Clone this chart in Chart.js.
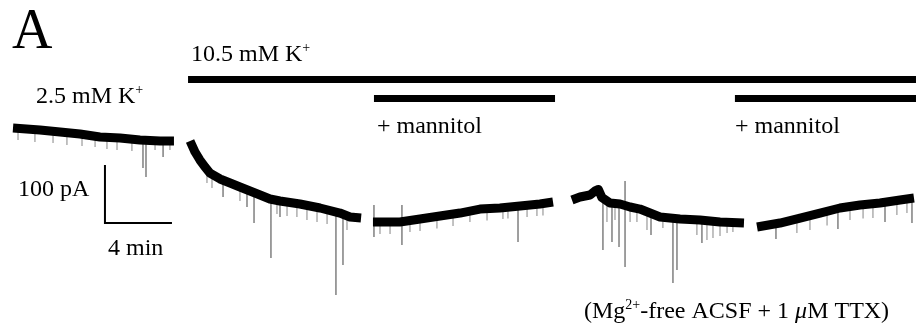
<!DOCTYPE html>
<html>
<head>
<meta charset="utf-8">
<title>Holding current, 2.5 / 10.5 mM K+</title>
<script src="https://cdn.jsdelivr.net/npm/chart.js@4/dist/chart.umd.min.js"></script>
<style>
  html, body { margin: 0; padding: 0; background: #fff; }
  #trace { display: block; }
</style>
</head>
<body>
<canvas id="trace" width="918" height="332"></canvas>
<script>
// Holding current traces, [time (min), current (pA)], one array per recording piece
const trace2_5K = [[0, 0], [1.61, -3.4], [2.81, -6.9], [4.00, -10.3], [5.19, -15.5], [6.39, -17.2], [7.58, -20.7], [8.78, -22.4], [9.61, -22.4]];
const trace10_5K = [[10.57, -22.4], [10.87, -41.4], [11.16, -55.2], [11.46, -67.2], [11.76, -77.6], [12.36, -87.9], [12.96, -94.8], [13.55, -101.7], [14.15, -108.6], [14.75, -115.5], [15.34, -122.4], [15.94, -125.9], [17.13, -131.0], [18.33, -137.9], [19.52, -146.6], [20.12, -153.4], [20.78, -155.2]];
const traceMannitol1 = [[21.49, -162.1], [23.10, -162.1], [24.30, -156.9], [25.49, -151.7], [26.69, -146.6], [27.88, -139.7], [29.07, -137.9], [30.27, -134.5], [31.46, -131.0], [32.24, -127.6]];
const traceMgFree = [[33.37, -124.1], [33.85, -119.0], [34.45, -115.5], [34.75, -108.5], [34.95, -106.0], [35.16, -120.0], [35.64, -129.3], [36.24, -131.0], [36.84, -136.2], [37.43, -139.7], [38.03, -146.6], [38.63, -153.4], [39.82, -156.9], [41.01, -158.6], [42.21, -162.1], [43.64, -163.8]];
const traceMannitol2 = [[44.42, -170.7], [45.79, -163.8], [46.99, -155.2], [48.18, -146.6], [49.37, -137.9], [50.57, -132.8], [51.76, -129.3], [52.96, -124.1], [53.79, -120.7]];

// Inward events: [time (min), from (pA), to (pA)]
const bigEvents = [
  [7.76, -20.7, -69.0], [7.94, -20.7, -84.5], [8.96, -22.4, -50.0],
  [12.54, -87.9, -119.0], [13.97, -104, -136.2], [14.39, -110, -163.8], [15.40, -122.4, -224.1],
  [15.94, -125.9, -153.4], [19.28, -144, -287.9], [19.70, -148, -236.2],
  [21.55, -132.8, -187.9], [23.22, -132.8, -201.7], [30.15, -134.5, -196.6],
  [35.22, -124, -210.3], [35.76, -129, -196.6], [36.18, -131, -205.2], [36.54, -91.4, -239.7],
  [38.09, -146, -184.5], [39.40, -156, -267.2], [39.64, -157, -244.8], [41.13, -159, -198.3],
  [45.55, -164, -191.4], [49.25, -140, -174.1], [52.06, -129, -162.1], [53.67, -121, -163.8]
];
const smallEvents = [
  [0.30, -1, -20.7], [1.31, -3, -24.1], [2.39, -6, -25.9], [3.22, -9, -29.3], [4.12, -11, -31.0],
  [4.90, -14, -32.8], [5.61, -16, -36.2], [6.21, -17, -37.9], [7.10, -20, -39.7], [8.48, -22, -37.9], [9.37, -22, -37.9],
  [11.58, -70.7, -94.8], [11.88, -79.3, -103.4], [13.55, -101.7, -125.9], [15.76, -124.1, -148.3],
  [16.36, -127.6, -151.7], [16.95, -130.2, -153.4], [17.55, -134.5, -158.6], [18.15, -137.1, -162.1],
  [18.75, -141.4, -165.5], [19.94, -151.7, -175.9],
  [21.91, -162.1, -182.8], [22.51, -162.1, -182.8], [23.70, -158.6, -179.3], [24.30, -156.9, -177.6],
  [25.31, -152.6, -173.3], [26.27, -148.3, -169.0], [27.28, -141.4, -162.1], [28.30, -138.8, -159.5],
  [29.25, -136.2, -156.9], [29.55, -135.3, -156.0], [30.69, -132.8, -153.5], [31.28, -131.0, -151.7], [31.64, -130.2, -150.9],
  [35.46, -125.9, -162.1], [35.94, -130.2, -158.6], [36.84, -136.2, -162.1], [37.25, -138.8, -162.1],
  [37.85, -150.0, -175.9], [38.80, -155.2, -172.4], [40.83, -158.6, -184.5], [41.43, -160.3, -193.1],
  [41.79, -161.2, -189.7], [42.21, -162.1, -186.2], [42.63, -162.9, -181.0], [42.98, -163.8, -179.3],
  [46.80, -156.9, -181.0], [47.58, -151.7, -175.8], [48.60, -144.0, -168.1], [49.97, -134.5, -158.6],
  [50.75, -131.9, -156.0], [51.34, -131.0, -155.1], [52.77, -125.9, -150.0], [53.37, -122.4, -146.5]
];

// Perfusion bars: [start (min), end (min)] and the level they sit at
const highKBar = [10.45, 53.91];
const mannitolBars = [[21.55, 32.36], [43.10, 53.91]];
const highKLevel = 83.6;
const mannitolLevel = 50.9;

// Scale bar: 4 min by 100 pA, corner position
const scaleCorner = [5.49, -163.8];
const scaleMinutes = 4;
const scalePA = 100;

const toPoints = arr => arr.map(p => ({ x: p[0], y: p[1] }));

function eventPoints(list) {
  const pts = [];
  list.forEach(e => {
    pts.push({ x: e[0], y: e[1] }, { x: e[0], y: e[2] }, { x: e[0], y: null });
  });
  return pts;
}

function barPoints(bars, level) {
  const pts = [];
  bars.forEach(b => {
    pts.push({ x: b[0], y: level }, { x: b[1], y: level }, { x: b[1], y: null });
  });
  return pts;
}

function traceSet(arr) {
  return {
    data: toPoints(arr),
    borderColor: '#000',
    borderWidth: 9,
    borderJoinStyle: 'round',
    borderCapStyle: 'butt',
    order: 1
  };
}

// Labels drawn on top of the plot
const SERIF = '"Liberation Serif", "Times New Roman", serif';

function drawRich(ctx, x, y, parts) {
  parts.forEach(p => {
    const size = p.sup ? 14 : (p.size || 24);
    ctx.font = (p.italic ? 'italic ' : '') + size + 'px ' + SERIF;
    ctx.fillText(p.t, x, p.sup ? y - 9 : y);
    x += ctx.measureText(p.t).width;
  });
}

const labelPlugin = {
  id: 'labels',
  afterDraw(chart) {
    const ctx = chart.ctx;
    ctx.save();
    ctx.fillStyle = '#000';
    ctx.textBaseline = 'alphabetic';
    ctx.textAlign = 'left';
    drawRich(ctx, 12, 48, [{ t: 'A', size: 56 }]);
    drawRich(ctx, 191, 61, [{ t: '10.5 mM K' }, { t: '+', sup: true }]);
    drawRich(ctx, 36, 103, [{ t: '2.5 mM K' }, { t: '+', sup: true }]);
    drawRich(ctx, 377, 133, [{ t: '+ mannitol' }]);
    drawRich(ctx, 735, 133, [{ t: '+ mannitol' }]);
    drawRich(ctx, 18, 196, [{ t: '100 pA' }]);
    drawRich(ctx, 108, 255, [{ t: '4 min' }]);
    drawRich(ctx, 584, 318, [
      { t: '(Mg' }, { t: '2+', sup: true }, { t: '-free ACSF + 1 ' },
      { t: 'μ', italic: true }, { t: 'M TTX)' }
    ]);
    ctx.restore();
  }
};

new Chart(document.getElementById('trace'), {
  type: 'line',
  data: {
    datasets: [
      traceSet(trace2_5K),
      traceSet(trace10_5K),
      traceSet(traceMannitol1),
      traceSet(traceMgFree),
      traceSet(traceMannitol2),
      {
        data: eventPoints(bigEvents),
        borderColor: '#808080',
        borderWidth: 1.5,
        order: 2
      },
      {
        data: eventPoints(smallEvents),
        borderColor: '#9a9a9a',
        borderWidth: 1.2,
        order: 3
      },
      {
        data: barPoints([highKBar], highKLevel),
        borderColor: '#000',
        borderWidth: 7,
        borderCapStyle: 'butt',
        order: 1
      },
      {
        data: barPoints(mannitolBars, mannitolLevel),
        borderColor: '#000',
        borderWidth: 7,
        borderCapStyle: 'butt',
        order: 1
      },
      {
        // scale bar
        data: [
          { x: scaleCorner[0], y: scaleCorner[1] + scalePA },
          { x: scaleCorner[0], y: scaleCorner[1] },
          { x: scaleCorner[0] + scaleMinutes, y: scaleCorner[1] }
        ],
        borderColor: '#000',
        borderWidth: 2,
        borderJoinStyle: 'miter',
        order: 1
      }
    ]
  },
  options: {
    responsive: false,
    animation: false,
    devicePixelRatio: 1,
    layout: { padding: 0 },
    elements: { point: { radius: 0 }, line: { tension: 0 } },
    plugins: { legend: { display: false }, tooltip: { enabled: false } },
    scales: {
      x: { type: 'linear', min: -0.776, max: 54.03, display: false },
      y: { type: 'linear', min: -351.7, max: 220.7, display: false }
    }
  },
  plugins: [labelPlugin]
});
</script>
</body>
</html>
